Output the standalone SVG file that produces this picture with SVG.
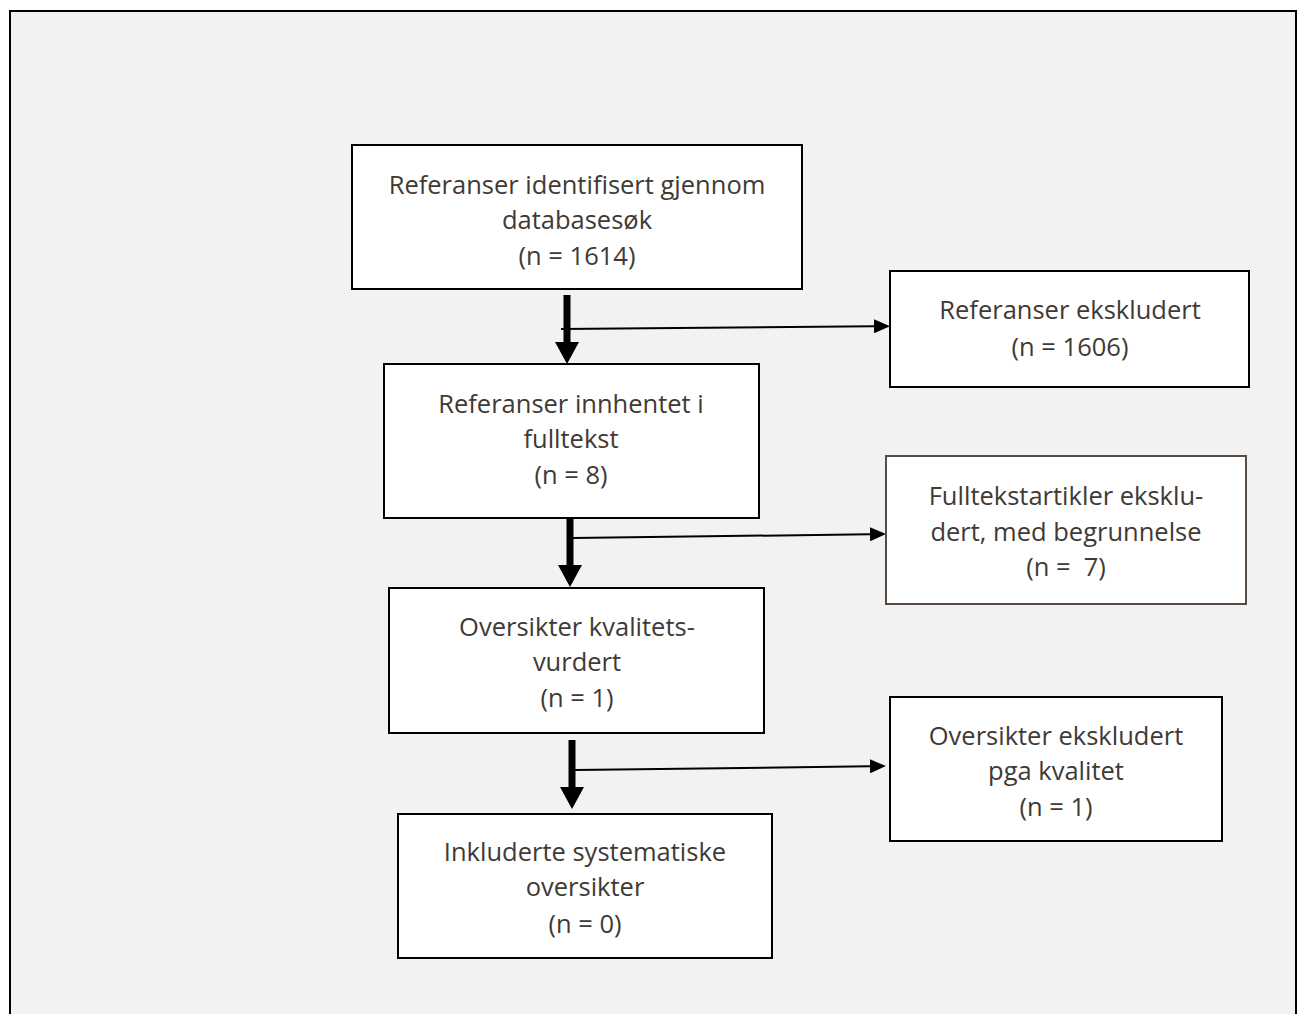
<svg xmlns="http://www.w3.org/2000/svg" width="1299" height="1014" viewBox="0 0 1299 1014">
<style>
.box{fill:#ffffff;stroke:#000000;stroke-width:2}
.box.brown{stroke:#594b42}
.t{font-family:"Open Sans","Noto Sans","DejaVu Sans",sans-serif;font-size:25.5px;fill:#403a35;text-anchor:middle;white-space:pre}
.thick{stroke:#000;stroke-width:7;fill:none}
.thin{stroke:#000;stroke-width:2;fill:none}
</style>
<defs>
<marker id="headThick" markerUnits="userSpaceOnUse" viewBox="0 0 22 24" refX="0" refY="12" markerWidth="22" markerHeight="24" orient="auto">
<path d="M0,0 L22,12 L0,24 z" fill="#000"/>
</marker>
<marker id="headThin" markerUnits="userSpaceOnUse" viewBox="0 0 16 14" refX="0" refY="7" markerWidth="16" markerHeight="14" orient="auto">
<path d="M0,0 L16,7 L0,14 z" fill="#000"/>
</marker>
</defs>
<rect x="0" y="0" width="1299" height="1014" fill="#ffffff"/>
<rect id="frame" x="10" y="11" width="1286" height="1010" fill="#f2f2f2" stroke="#000" stroke-width="2"/>

<g id="connectors">
<path class="thick" d="M567,295 L567,342" marker-end="url(#headThick)"/>
<path class="thin" d="M561,329 L874,326.3" marker-end="url(#headThin)"/>
<path class="thick" d="M570,518 L570,565" marker-end="url(#headThick)"/>
<path class="thin" d="M573,538 L870,534.3" marker-end="url(#headThin)"/>
<path class="thick" d="M572,740 L572,787" marker-end="url(#headThick)"/>
<path class="thin" d="M575,770 L870,766.3" marker-end="url(#headThin)"/>
</g>

<g id="node-identified">
<rect class="box" x="352" y="145" width="450" height="144"/>
<text class="t" x="577" y="194">Referanser identifisert gjennom</text>
<text class="t" x="577" y="229">databasesøk</text>
<text class="t" x="577" y="265">(n = 1614)</text>
</g>

<g id="node-excluded-refs">
<rect class="box" x="890" y="271" width="359" height="116"/>
<text class="t" x="1070" y="319">Referanser ekskludert</text>
<text class="t" x="1070" y="356">(n = 1606)</text>
</g>

<g id="node-fulltext">
<rect class="box" x="384" y="364" width="375" height="154"/>
<text class="t" x="571" y="413">Referanser innhentet i</text>
<text class="t" x="571" y="448">fulltekst</text>
<text class="t" x="571" y="484">(n = 8)</text>
</g>

<g id="node-fulltext-excluded">
<rect class="box brown" x="886" y="456" width="360" height="148"/>
<text class="t" x="1066" y="505">Fulltekstartikler eksklu-</text>
<text class="t" x="1066" y="541">dert, med begrunnelse</text>
<text class="t" x="1066" y="576">(n =  7)</text>
</g>

<g id="node-quality">
<rect class="box" x="389" y="588" width="375" height="145"/>
<text class="t" x="577" y="636">Oversikter kvalitets-</text>
<text class="t" x="577" y="671">vurdert</text>
<text class="t" x="577" y="707">(n = 1)</text>
</g>

<g id="node-quality-excluded">
<rect class="box" x="890" y="697" width="332" height="144"/>
<text class="t" x="1056" y="745">Oversikter ekskludert</text>
<text class="t" x="1056" y="780">pga kvalitet</text>
<text class="t" x="1056" y="816">(n = 1)</text>
</g>

<g id="node-included">
<rect class="box" x="398" y="814" width="374" height="144"/>
<text class="t" x="585" y="861">Inkluderte systematiske</text>
<text class="t" x="585" y="896">oversikter</text>
<text class="t" x="585" y="933">(n = 0)</text>
</g>
</svg>
